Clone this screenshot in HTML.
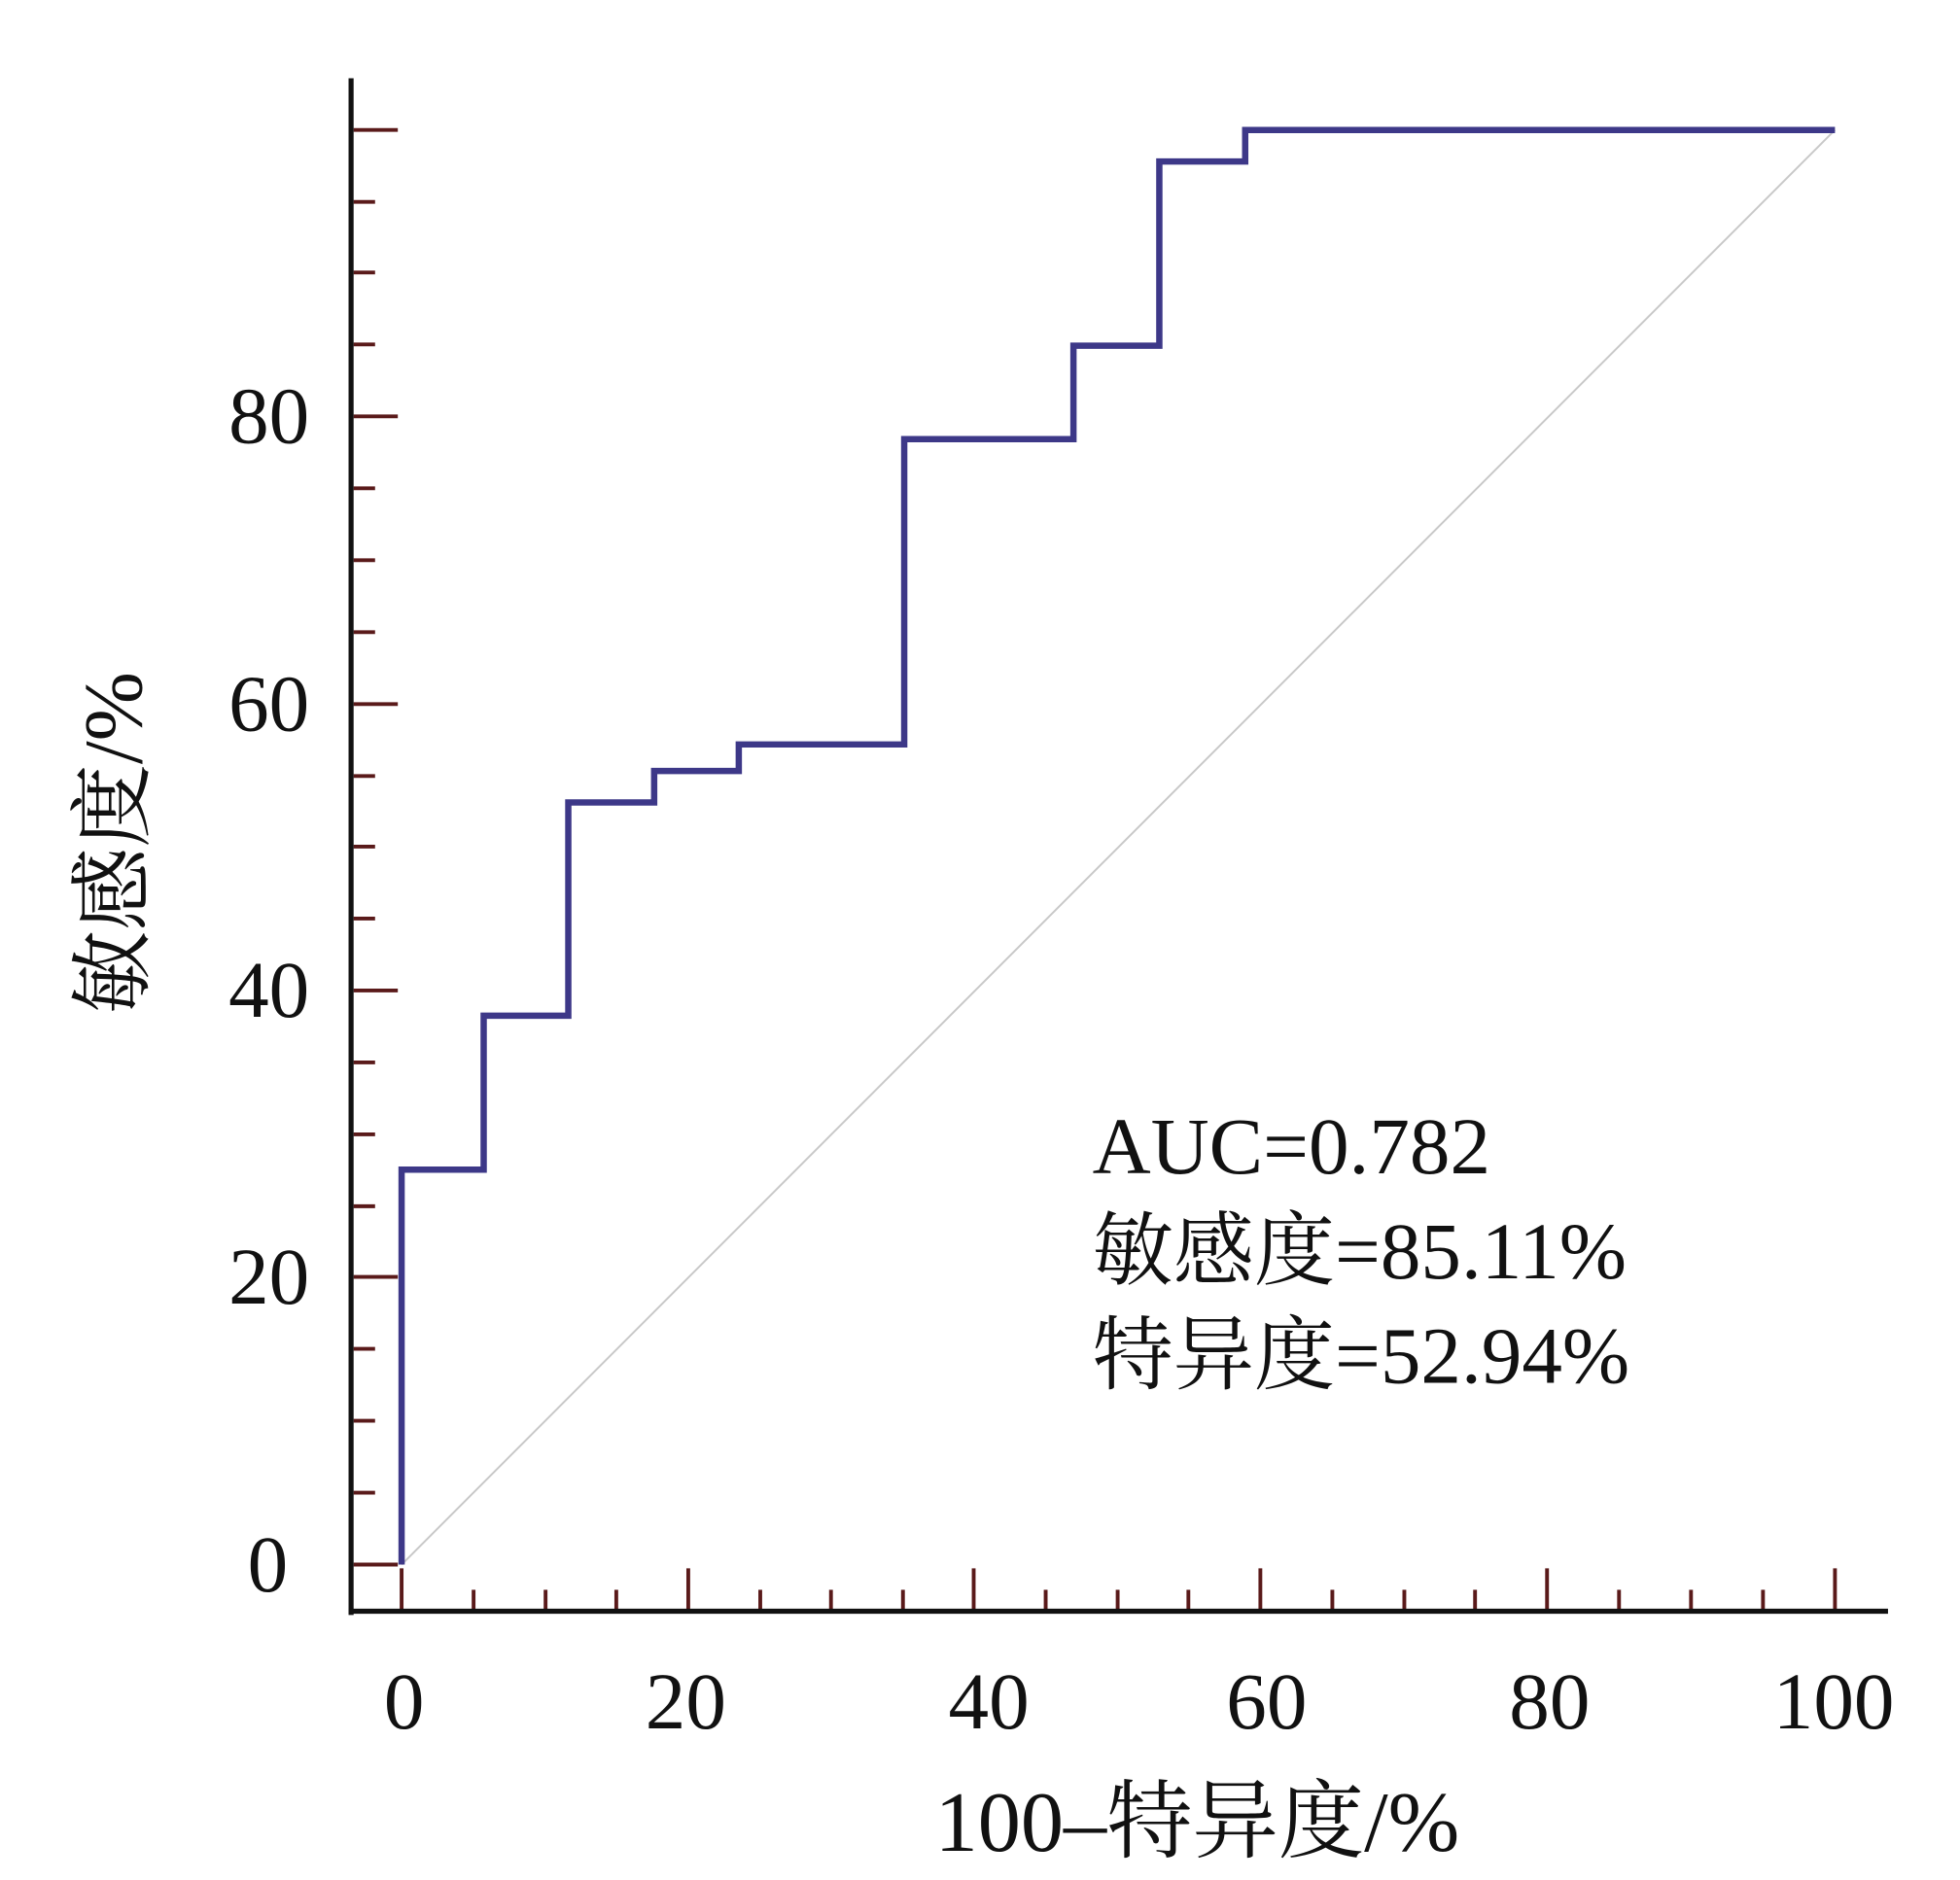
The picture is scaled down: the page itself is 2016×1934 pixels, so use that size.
<!DOCTYPE html>
<html><head><meta charset="utf-8"><style>
html,body{margin:0;padding:0;background:#fff;}
svg{display:block;}
text{font-family:"Liberation Serif","Noto Serif CJK SC",serif;fill:#111;}
</style></head><body>
<svg width="2016" height="1934" viewBox="0 0 1552 1490" preserveAspectRatio="none" xmlns="http://www.w3.org/2000/svg">
<rect width="1552" height="1490" fill="#fff"/>
<line x1="318" y1="1240" x2="1453" y2="103" stroke="#c8c8c8" stroke-width="1.5"/>
<g stroke="#5a1a1a" stroke-width="3">
<line x1="280" y1="103" x2="315" y2="103"/>
<line x1="280" y1="160" x2="297" y2="160"/>
<line x1="280" y1="216" x2="297" y2="216"/>
<line x1="280" y1="273" x2="297" y2="273"/>
<line x1="280" y1="330" x2="315" y2="330"/>
<line x1="280" y1="387" x2="297" y2="387"/>
<line x1="280" y1="444" x2="297" y2="444"/>
<line x1="280" y1="501" x2="297" y2="501"/>
<line x1="280" y1="558" x2="315" y2="558"/>
<line x1="280" y1="615" x2="297" y2="615"/>
<line x1="280" y1="671" x2="297" y2="671"/>
<line x1="280" y1="728" x2="297" y2="728"/>
<line x1="280" y1="785" x2="315" y2="785"/>
<line x1="280" y1="842" x2="297" y2="842"/>
<line x1="280" y1="899" x2="297" y2="899"/>
<line x1="280" y1="956" x2="297" y2="956"/>
<line x1="280" y1="1012" x2="315" y2="1012"/>
<line x1="280" y1="1069" x2="297" y2="1069"/>
<line x1="280" y1="1126" x2="297" y2="1126"/>
<line x1="280" y1="1183" x2="297" y2="1183"/>
<line x1="280" y1="1240" x2="315" y2="1240"/>
<line x1="318" y1="1276" x2="318" y2="1243"/>
<line x1="375" y1="1276" x2="375" y2="1260"/>
<line x1="432" y1="1276" x2="432" y2="1260"/>
<line x1="488" y1="1276" x2="488" y2="1260"/>
<line x1="545" y1="1276" x2="545" y2="1243"/>
<line x1="602" y1="1276" x2="602" y2="1260"/>
<line x1="658" y1="1276" x2="658" y2="1260"/>
<line x1="715" y1="1276" x2="715" y2="1260"/>
<line x1="771" y1="1276" x2="771" y2="1243"/>
<line x1="828" y1="1276" x2="828" y2="1260"/>
<line x1="885" y1="1276" x2="885" y2="1260"/>
<line x1="941" y1="1276" x2="941" y2="1260"/>
<line x1="998" y1="1276" x2="998" y2="1243"/>
<line x1="1055" y1="1276" x2="1055" y2="1260"/>
<line x1="1112" y1="1276" x2="1112" y2="1260"/>
<line x1="1168" y1="1276" x2="1168" y2="1260"/>
<line x1="1225" y1="1276" x2="1225" y2="1243"/>
<line x1="1282" y1="1276" x2="1282" y2="1260"/>
<line x1="1339" y1="1276" x2="1339" y2="1260"/>
<line x1="1396" y1="1276" x2="1396" y2="1260"/>
<line x1="1453" y1="1276" x2="1453" y2="1243"/>
</g>
<line x1="278" y1="62" x2="278" y2="1280" stroke="#111" stroke-width="4"/>
<line x1="276" y1="1277" x2="1495" y2="1277" stroke="#111" stroke-width="4"/>
<polyline fill="none" stroke="#3d3888" stroke-width="5" points="318,1240 318,927 383,927 383,805 450,805 450,636 518,636 518,611 585,611 585,590 716,590 716,348 850,348 850,274 918,274 918,128 986,128 986,103 1453,103"/>
<g font-size="64" text-anchor="end">
<text x="245" y="351">80</text>
<text x="245" y="579">60</text>
<text x="245" y="806">40</text>
<text x="245" y="1033">20</text>
<text x="228" y="1261">0</text>
</g>
<g font-size="64" text-anchor="middle">
<text x="320" y="1370">0</text>
<text x="543" y="1370">20</text>
<text x="783" y="1370">40</text>
<text x="1003" y="1370">60</text>
<text x="1227" y="1370">80</text>
<text x="1452" y="1370">100</text>
</g>
<text font-size="68" text-anchor="middle" x="948" y="1467">100–特异度/%</text>
<text font-size="66" text-anchor="middle" transform="translate(112,668) rotate(-90)">敏感度/%</text>
<g font-size="64">
<text x="865" y="930">AUC=0.782</text>
<text x="865" y="1013">敏感度=85.11%</text>
<text x="865" y="1096">特异度=52.94%</text>
</g>
</svg>
</body></html>
